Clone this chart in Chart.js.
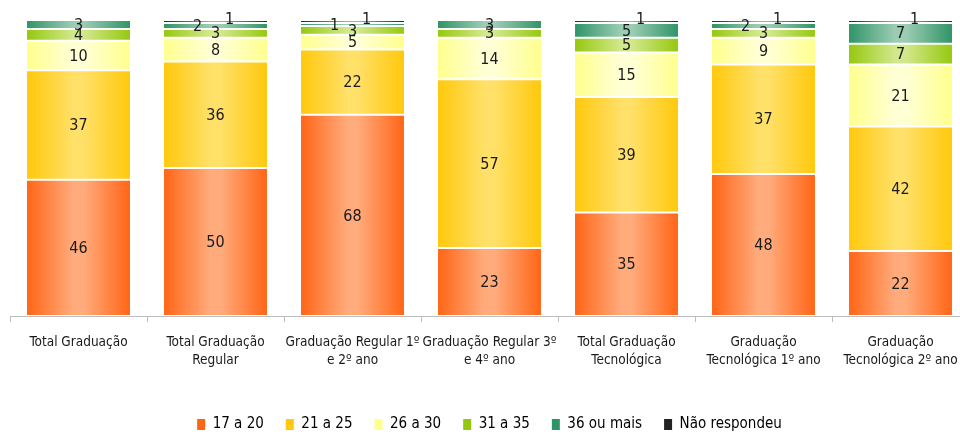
<!DOCTYPE html>
<html>
<head>
<meta charset="utf-8">
<script src="https://cdn.jsdelivr.net/npm/chart.js@4.4.1/dist/chart.umd.min.js"></script>
<style>
  html, body { margin: 0; padding: 0; background: #fff; overflow: hidden; }
  #wrap { width: 970px; height: 446px; position: relative; }
</style>
</head>
<body>
<div id="wrap"><canvas id="chart"></canvas></div>
<script>
const categories = [
  ["Total Graduação"],
  ["Total Graduação", "Regular"],
  ["Graduação Regular 1º", "e 2º ano"],
  ["Graduação Regular 3º", "e 4º ano"],
  ["Total Graduação", "Tecnológica"],
  ["Graduação", "Tecnológica 1º ano"],
  ["Graduação", "Tecnológica 2º ano"]
];

const seriesNames = ["17 a 20", "21 a 25", "26 a 30", "31 a 35", "36 ou mais", "Não respondeu"];

const age17to20 = [46, 50, 68, 23, 35, 48, 22];
const age21to25 = [37, 36, 22, 57, 39, 37, 42];
const age26to30 = [10, 8, 5, 14, 15, 9, 21];
const age31to35 = [4, 3, 3, 3, 5, 3, 7];
const age36plus = [3, 2, 1, 3, 5, 2, 7];
const noAnswer  = [0, 1, 1, 0, 1, 1, 1];

// edge colour / centre colour for the horizontal gradient
const palette = [
  ["#ff6414", "#ffab7c"],
  ["#ffc80a", "#ffe068"],
  ["#ffff8c", "#ffffd6"],
  ["#94c80c", "#d2e88c"],
  ["#2e9366", "#9ccdb4"],
  ["#222222", "#a8a8a8"]
];

const FONT = "'DejaVu Sans Condensed', 'DejaVu Sans', sans-serif";

function gradientFor(i) {
  return ctx => {
    const chart = ctx.chart;
    const xs = chart.scales.x;
    if (!chart.chartArea || !xs || ctx.dataIndex == null) return palette[i][0];
    const w = xs.width / categories.length * 0.766;
    const cx = xs.getPixelForValue(ctx.dataIndex);
    const g = chart.ctx.createLinearGradient(cx - w / 2, 0, cx + w / 2, 0);
    g.addColorStop(0, palette[i][0]);
    g.addColorStop(0.45, palette[i][1]);
    g.addColorStop(0.55, palette[i][1]);
    g.addColorStop(1, palette[i][0]);
    return g;
  };
}

const values = [age17to20, age21to25, age26to30, age31to35, age36plus, noAnswer];

const datasets = values.map((data, i) => ({
  label: seriesNames[i],
  data: data,
  backgroundColor: gradientFor(i),
  borderColor: "rgba(255,255,255,0.25)",
  borderWidth: 1,
  borderSkipped: false,
  barPercentage: 0.766,
  categoryPercentage: 1
}));

const segmentLabels = {
  id: "segmentLabels",
  afterDatasetsDraw(chart) {
    const ctx = chart.ctx;
    ctx.save();
    ctx.font = "16px " + FONT;
    ctx.fillStyle = "#1a1a1a";
    ctx.textAlign = "center";
    ctx.textBaseline = "middle";
    chart.data.datasets.forEach((ds, di) => {
      const meta = chart.getDatasetMeta(di);
      meta.data.forEach((bar, j) => {
        const v = ds.data[j];
        if (!v) return;
        let x = bar.x;
        let y = (bar.y + bar.base) / 2;
        if (di === 5) { x += 14; y -= 3; }
        if (di === 4 && v <= 2) { x -= 18; }
        ctx.fillText(String(v), x, y + 1);
      });
    });
    ctx.restore();
  }
};

new Chart(document.getElementById("chart"), {
  type: "bar",
  data: { labels: categories, datasets: datasets },
  options: {
    responsive: true,
    maintainAspectRatio: false,
    animation: false,
    layout: { padding: { left: 10, right: 1, top: 20, bottom: 4 } },
    plugins: {
      legend: {
        position: "bottom",
        labels: {
          font: { family: FONT, size: 15 },
          color: "#333",
          boxWidth: 8,
          boxHeight: 11,
          padding: 22,
          generateLabels(chart) {
            return chart.data.datasets.map((ds, i) => ({
              text: ds.label,
              fillStyle: palette[i][0],
              strokeStyle: palette[i][0],
              lineWidth: 0,
              datasetIndex: i
            }));
          }
        }
      },
      tooltip: { enabled: false }
    },
    scales: {
      x: {
        stacked: true,
        grid: {
          offset: true,
          drawOnChartArea: false,
          drawTicks: true,
          tickLength: 6,
          color: "#bdbdbd"
        },
        border: { color: "#bdbdbd", width: 1 },
        ticks: {
          font: { family: FONT, size: 13.5, lineHeight: 1.35 },
          color: "#1a1a1a",
          maxRotation: 0,
          autoSkip: false,
          padding: 11
        },
        afterFit(scale) { scale.height = 79; }
      },
      y: {
        stacked: true,
        display: false,
        min: 0,
        max: 100
      }
    }
  },
  plugins: [segmentLabels]
});
</script>
</body>
</html>
